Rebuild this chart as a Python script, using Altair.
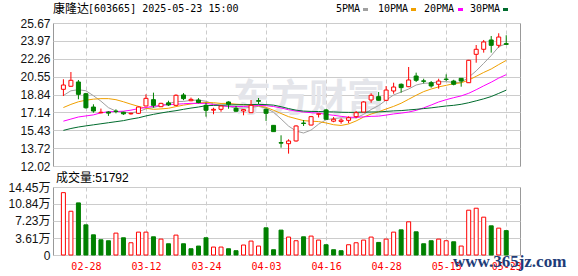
import altair as alt
import pandas as pd

# ---------------- data ----------------
dates = ["02-25", "02-26", "02-27", "02-28", "03-03", "03-04", "03-05", "03-06", "03-07", "03-10",
         "03-11", "03-12", "03-13", "03-14", "03-17", "03-18", "03-19", "03-20", "03-21", "03-24",
         "03-25", "03-26", "03-27", "03-28", "03-31", "04-01", "04-02", "04-03", "04-07", "04-08",
         "04-09", "04-10", "04-11", "04-14", "04-15", "04-16", "04-17", "04-18", "04-21", "04-22",
         "04-23", "04-24", "04-25", "04-28", "04-29", "04-30", "05-06", "05-07", "05-08", "05-09",
         "05-12", "05-13", "05-14", "05-15", "05-16", "05-19", "05-20", "05-21", "05-22", "05-23"]

opens = [19.34, 19.63, 20.04, 18.92, 17.65, 17.10, 17.17, 17.26, 17.15, 17.00,
         17.05, 17.75, 18.35, 17.68, 18.05, 17.81, 18.80, 18.25, 18.32, 17.81,
         17.35, 17.43, 18.13, 17.53, 17.27, 17.11, 18.26, 17.43, 15.90, 14.26,
         14.15, 14.41, 16.12, 15.93, 16.96, 17.37, 16.30, 16.28, 16.38, 16.73,
         17.17, 18.32, 18.64, 18.29, 19.18, 19.82, 19.59, 20.61, 20.15, 19.97,
         19.82, 20.32, 20.13, 20.39, 19.97, 22.68, 23.16, 24.05, 23.54, 23.70]
highs = [20.30, 20.99, 20.23, 19.00, 17.91, 17.50, 17.25, 17.43, 17.20, 17.10,
         17.70, 18.86, 19.02, 18.05, 18.25, 18.86, 18.98, 18.55, 18.50, 18.06,
         17.58, 17.82, 18.20, 17.75, 17.45, 18.32, 18.51, 17.50, 15.92, 14.95,
         14.57, 15.90, 16.41, 16.80, 17.02, 17.45, 16.70, 16.57, 16.76, 17.27,
         18.20, 18.96, 19.08, 19.65, 19.97, 19.90, 21.47, 20.93, 20.35, 20.13,
         20.35, 20.77, 20.25, 20.39, 22.15, 23.57, 24.05, 24.43, 24.69, 24.50]
lows = [18.70, 19.60, 18.39, 17.50, 17.11, 17.05, 16.80, 17.05, 16.90, 16.93,
        17.00, 17.72, 17.58, 17.65, 17.75, 17.78, 18.30, 18.20, 18.00, 16.73,
        16.96, 17.20, 17.49, 17.20, 16.86, 17.10, 17.91, 16.32, 15.30, 13.77,
        13.20, 14.35, 15.84, 15.90, 16.65, 16.45, 16.20, 16.06, 16.10, 16.57,
        17.15, 18.06, 18.25, 18.25, 18.92, 19.02, 19.55, 20.04, 19.90, 19.50,
        19.40, 20.13, 19.72, 19.59, 19.95, 21.88, 22.84, 22.84, 23.31, 23.60]
closes = [19.75, 20.20, 18.86, 17.58, 17.27, 17.15, 17.07, 17.22, 17.00, 17.05,
          17.65, 18.48, 17.81, 18.00, 17.85, 18.77, 18.45, 18.38, 18.08, 17.34,
          17.43, 17.75, 17.91, 17.25, 17.40, 17.81, 18.20, 17.05, 15.30, 14.20,
          14.41, 15.84, 16.08, 16.73, 17.00, 16.48, 16.48, 16.40, 16.63, 17.11,
          18.13, 18.77, 18.29, 19.27, 19.56, 19.50, 20.23, 20.20, 20.10, 19.66,
          20.13, 20.28, 19.82, 20.13, 22.11, 23.16, 23.86, 23.54, 24.33, 23.63]
# volume in 万 (10k lots)
vols = [13.25, 9.30, 11.07, 6.41, 4.29, 3.24, 3.03, 4.65, 3.66, 2.60,
        4.86, 4.86, 3.87, 3.38, 2.39, 4.23, 2.39, 1.33, 1.90, 3.66,
        1.69, 1.69, 1.33, 0.91, 2.12, 2.96, 1.90, 5.78, 1.12, 5.29,
        3.81, 3.03, 3.87, 4.02, 3.17, 2.18, 1.12, 0.91, 2.18, 2.60,
        3.17, 3.81, 2.67, 3.38, 4.86, 5.35, 7.05, 4.93, 2.39, 3.03,
        3.38, 3.03, 2.81, 1.90, 9.52, 9.94, 8.04, 6.20, 5.71, 5.1792]
# volume bar colour (1 = red hollow, 0 = green)
vol_up = [1, 1, 0, 0, 0, 0, 0, 1, 0, 1, 1, 1, 0, 1, 0, 1, 0, 0, 0, 0,
          1, 1, 0, 0, 1, 1, 1, 0, 0, 0, 1, 1, 0, 1, 1, 0, 0, 0, 1, 1,
          1, 1, 0, 1, 1, 0, 1, 0, 0, 0, 1, 1, 0, 1, 1, 1, 1, 0, 1, 0]

ma5 = [18.75, 19.20, 19.30, 19.20, 18.73, 18.21, 17.59, 17.26, 17.14, 17.10,
       17.20, 17.48, 17.60, 17.80, 17.96, 18.18, 18.18, 18.29, 18.31, 18.20,
       17.94, 17.80, 17.70, 17.54, 17.55, 17.62, 17.71, 17.54, 17.15, 16.51,
       15.83, 15.36, 15.17, 15.45, 16.01, 16.43, 16.55, 16.62, 16.60, 16.62,
       16.95, 17.41, 17.79, 18.31, 18.80, 19.08, 19.37, 19.75, 19.92, 19.94,
       20.06, 20.07, 20.00, 20.00, 20.49, 21.10, 21.82, 22.56, 23.40, 23.70]
ma10 = [17.60, 17.90, 18.15, 18.30, 18.40, 18.45, 18.45, 18.35, 18.15, 17.92,
        17.71, 17.53, 17.43, 17.47, 17.53, 17.69, 17.83, 17.94, 18.05, 18.08,
        18.06, 17.99, 18.00, 17.92, 17.88, 17.78, 17.76, 17.62, 17.34, 17.03,
        16.73, 16.54, 16.35, 16.30, 16.26, 16.13, 15.96, 15.89, 16.03, 16.32,
        16.69, 16.98, 17.20, 17.46, 17.71, 18.01, 18.39, 18.77, 19.12, 19.37,
        19.57, 19.72, 19.88, 19.96, 20.22, 20.58, 20.95, 21.28, 21.70, 22.10]
ma20 = [16.30, 16.50, 16.70, 16.80, 16.90, 17.10, 17.20, 17.22, 17.25, 17.35,
        17.50, 17.60, 17.72, 17.80, 17.88, 17.92, 17.96, 18.00, 18.00, 18.00,
        17.88, 17.76, 17.71, 17.70, 17.70, 17.74, 17.79, 17.78, 17.70, 17.56,
        17.39, 17.26, 17.18, 17.11, 17.07, 16.95, 16.86, 16.76, 16.68, 16.67,
        16.71, 16.76, 16.78, 16.88, 16.99, 17.07, 17.17, 17.33, 17.57, 17.84,
        18.13, 18.35, 18.54, 18.71, 18.96, 19.30, 19.67, 20.02, 20.41, 20.74]
ma30 = [15.42, 15.60, 15.74, 15.85, 15.95, 16.05, 16.15, 16.25, 16.35, 16.50,
        16.62, 16.80, 16.95, 17.08, 17.20, 17.30, 17.43, 17.55, 17.65, 17.78,
        17.80, 17.83, 17.85, 17.86, 17.87, 17.88, 17.90, 17.88, 17.83, 17.68,
        17.50, 17.35, 17.26, 17.23, 17.22, 17.20, 17.18, 17.15, 17.14, 17.14,
        17.16, 17.17, 17.18, 17.23, 17.28, 17.31, 17.37, 17.43, 17.50, 17.57,
        17.66, 17.75, 17.81, 17.91, 18.06, 18.24, 18.43, 18.65, 18.95, 19.26]

price_ticks = [12.02, 13.72, 15.43, 17.14, 18.84, 20.55, 22.26, 23.97, 25.67]
vol_ticks = [0, 3.61, 7.23, 10.84, 14.45]
date_tick_idx = [3, 11, 19, 27, 35, 43, 51, 59]
ma_names = ["5PMA", "10PMA", "20PMA", "30PMA"]
ma_colors = ["#a0a0a0", "#f0a000", "#ff00ff", "#006b2d"]

stock_name = "康隆达"
stock_info = "[603665] 2025-05-23 15:00"

# ---------------- tables ----------------
n = len(dates)
df = pd.DataFrame({"i": list(range(n)), "date": dates, "open": opens, "high": highs,
                   "low": lows, "close": closes, "vol": vols, "vup": vol_up})
df["up"] = (df["close"] >= df["open"]).astype(int)

ma_df = pd.concat([pd.DataFrame({"i": list(range(n)), "ma": nm, "v": vals})
                   for nm, vals in zip(ma_names, [ma5, ma10, ma20, ma30])])

RED = "#ff0000"
GREEN = "#008000"
GRID = "#cccccc"
W = 467
H_TOP = 143
H_BOT = 68

x_scale = alt.Scale(domain=[-0.72, 60.17], nice=False, zero=False)
label_expr = " : ".join(f"datum.value == {k} ? '{dates[k]}'" for k in date_tick_idx) + " : ''"

x_top = alt.X("i:Q", scale=x_scale,
              axis=alt.Axis(values=date_tick_idx, labels=False, ticks=False, domain=False,
                            grid=True, gridDash=[4, 3], gridColor=GRID, title=None))
y_scale_top = alt.Scale(domain=[12.02, 25.67], nice=False, zero=False)
y_axis_top = alt.Axis(values=price_ticks, format=".2f", title=None, ticks=False, domain=False,
                      grid=True, gridColor=GRID, labelFont="Liberation Sans", labelFontSize=12,
                      labelColor="#111111", labelPadding=3, minExtent=40, maxExtent=40)


def txt(s, x, y, size=10, font="DejaVu Sans Mono", color="#000000", align="left",
        baseline="middle", weight="normal"):
    return alt.Chart(pd.DataFrame({"t": [s]})).mark_text(
        align=align, baseline=baseline, font=font, fontSize=size, color=color, fontWeight=weight
    ).encode(text="t:N", x=alt.value(x), y=alt.value(y))


def swatch(x, color):
    return alt.Chart(pd.DataFrame({"t": [0]})).mark_rect(color=color).encode(
        x=alt.value(x), x2=alt.value(x + 5), y=alt.value(-15), y2=alt.value(-12))


watermark = txt("东方财富", 256, 77, size=38, font="Noto Sans CJK SC", color="#e4e5ea",
                align="center", weight="bold")

lines = alt.Chart(ma_df).mark_line(strokeWidth=1).encode(
    x=x_top,
    y=alt.Y("v:Q", scale=y_scale_top, axis=y_axis_top),
    color=alt.Color("ma:N", scale=alt.Scale(domain=ma_names, range=ma_colors), legend=None),
)

wicks = alt.Chart(df).mark_rule(strokeWidth=1).encode(
    x=x_top,
    y=alt.Y("low:Q", scale=y_scale_top, axis=y_axis_top),
    y2="high:Q",
    stroke=alt.condition("datum.up == 1", alt.value(RED), alt.value(GREEN)),
)

bodies = alt.Chart(df).mark_bar(size=4, strokeWidth=1).encode(
    x=x_top,
    y=alt.Y("open:Q", scale=y_scale_top, axis=y_axis_top),
    y2="close:Q",
    fill=alt.condition("datum.up == 1", alt.value("#ffffff"), alt.value(GREEN)),
    stroke=alt.condition("datum.up == 1", alt.value(RED), alt.value(GREEN)),
)

header = [txt(stock_name, 0, -14, size=12, font="Noto Sans CJK SC"),
          txt(stock_info, 35, -14, size=10)]
legend_text_x = [283, 325, 371, 417]
legend_sw_x = [310, 358, 405, 450]
legend = []
for nm, col, tx, sx in zip(ma_names, ma_colors, legend_text_x, legend_sw_x):
    legend.append(txt(nm, tx, -14, size=10))
    legend.append(swatch(sx, col))

top = alt.layer(watermark, lines, wicks, bodies, *header, *legend).properties(width=W, height=H_TOP)

# ---------------- volume panel ----------------
x_bot = alt.X("i:Q", scale=x_scale,
              axis=alt.Axis(values=date_tick_idx, labelExpr=label_expr, ticks=False, domain=False,
                            grid=True, gridDash=[4, 3], gridColor=GRID, labelColor=RED,
                            labelFont="DejaVu Sans Mono", labelFontSize=10, labelPadding=6,
                            labelFlush=False, labelOverlap=False, title=None))
y_bot = alt.Y("vol:Q", scale=alt.Scale(domain=[0, 14.45], nice=False, zero=True),
              axis=alt.Axis(values=vol_ticks,
                            labelExpr="datum.value == 0 ? '0' : format(datum.value, '.2f') + '万'",
                            title=None, ticks=False, domain=False, grid=True, gridColor=GRID,
                            labelFont="Liberation Sans, Noto Sans CJK SC", labelFontSize=12,
                            labelColor="#111111", labelPadding=3, minExtent=40, maxExtent=40))

vbars = alt.Chart(df).mark_bar(size=4, strokeWidth=1).encode(
    x=x_bot, y=y_bot,
    fill=alt.condition("datum.vup == 1", alt.value("#ffffff"), alt.value(GREEN)),
    stroke=alt.condition("datum.vup == 1", alt.value(RED), alt.value(GREEN)),
)
vol_title = txt(f"成交量:{round(vols[-1] * 10000)}", 3, -9, size=12,
                font="Liberation Sans, Noto Sans CJK SC")
site = txt("www.365jz.com", 400, 80, size=17, font="Liberation Serif", color="#1e3c78",
           baseline="alphabetic", weight="bold")

bottom = alt.layer(vbars, vol_title, site).properties(width=W, height=H_BOT)

chart = alt.vconcat(top, bottom, spacing=21, bounds="flush").properties(
    padding={"left": 7, "top": 2, "right": 2, "bottom": 2},
    background="#ffffff",
).configure_view(stroke="#999999", strokeWidth=1)

chart.save("out.html", embed_options={"renderer": "svg", "actions": False})
